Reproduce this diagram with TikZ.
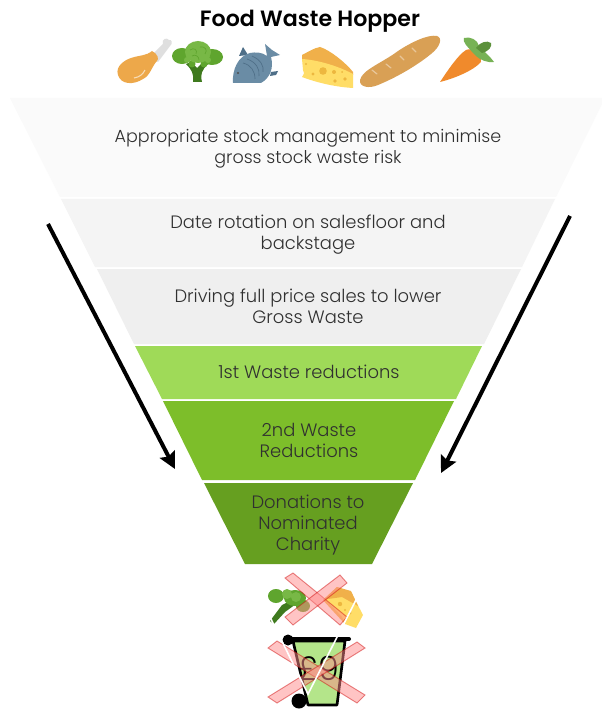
\documentclass[tikz,border=0pt]{standalone}
\usepackage{fontspec}
\setmainfont{Poppins Light}[BoldFont={Poppins SemiBold}]
\usetikzlibrary{arrows.meta}
\definecolor{segA}{HTML}{FAFAFA}
\definecolor{segB}{HTML}{F4F4F4}
\definecolor{segC}{HTML}{EFEFEF}
\definecolor{segD}{HTML}{9FDA58}
\definecolor{segE}{HTML}{7DBE2A}
\definecolor{segF}{HTML}{669F20}
\definecolor{txt}{HTML}{303030}
\definecolor{gOrange}{HTML}{EDA84A}
\definecolor{gGreen}{HTML}{5FA52E}
\definecolor{gLight}{HTML}{78B846}
\definecolor{gDark}{HTML}{3F7A1E}
\definecolor{fishC}{HTML}{6A8CA5}
\definecolor{fishD}{HTML}{4F6F88}
\definecolor{cheeseA}{HTML}{FFDD67}
\definecolor{cheeseB}{HTML}{F0B04A}
\definecolor{cheeseH}{HTML}{EDB73F}
\definecolor{bread}{HTML}{D9A055}
\definecolor{carrot}{HTML}{F08A2C}
\definecolor{carrotL}{HTML}{77B255}
\definecolor{carrotD}{HTML}{5C913B}
\definecolor{binG}{HTML}{B4E58A}
\definecolor{crossF}{HTML}{FF8A8A}
\tikzset{x=0.75pt,y=-0.75pt,
  seglabel/.style={align=center,text=txt,font=\fontsize{13.45}{15.8}\selectfont,inner sep=0pt},
  bigarrow/.style={line width=3pt,-{Stealth[length=12.5pt,width=12.5pt,inset=2pt]}},
  redx/.style={fill=crossF,fill opacity=.5,draw=red!80!black,draw opacity=.45,line width=.7pt},
}
\begin{document}
\begin{tikzpicture}
\useasboundingbox (0,0) rectangle (602,709);
\fill[white] (0,0) rectangle (602,709);
% funnel
\fill[segA] (10,98) -- (605,98) -- (556,197) -- (60,197) -- cycle;
\fill[segB] (61,199) -- (555,199) -- (522,267) -- (95,267) -- cycle;
\fill[segC] (97,269) -- (521,269) -- (484,344) -- (134,344) -- cycle;
\fill[segD] (135,346) -- (482,346) -- (456,399) -- (162,399) -- cycle;
\fill[segE] (163,401) -- (454,401) -- (415,480) -- (202,480) -- cycle;
\fill[segF] (204,483) -- (413,483) -- (372,564) -- (245,564) -- cycle;
\node[seglabel] (t0) at (310,21) {\fontsize{16.6}{18}\selectfont\bfseries\color{black}Food Waste Hopper};
\node[seglabel,font=\fontsize{13.15}{15.8}\selectfont] (t1) at (308,149) {Appropriate stock management to minimise\\gross stock waste risk};
\node[seglabel] (t2) at (308,235) {Date rotation on salesfloor and\\backstage};
\node[seglabel] (t3) at (308,306) {Driving full price sales to lower\\Gross Waste};
\node[seglabel] (t4) at (309,372) {1st Waste reductions};
\node[seglabel] (t5) at (309,440) {2nd Waste\\Reductions};
\node[seglabel] (t6) at (308,525) {Donations to\\Nominated\\Charity};
% arrows
\coordinate (la) at (48,224); \coordinate (lb) at (175,469);
\coordinate (ra) at (570,216); \coordinate (rb) at (441,473);
\draw[bigarrow] (la) -- (lb);
\draw[bigarrow] (ra) -- (rb);
% chicken
\fill[gray!25] (151,56) -- (163,44) .. controls (161,39) and (167,37) .. (169,40) .. controls (172,39) and (173,44) .. (170,46) -- (158,62) -- cycle;
\fill[gOrange] (152,51) .. controls (158,54) and (159,59) .. (157,61) .. controls (152,66) and (150,76) .. (143,79) .. controls (134,85) and (121,85) .. (118,75) .. controls (115,66) and (125,60) .. (131,58) .. controls (140,55) and (146,56) .. (152,51) -- cycle;
\draw[white,opacity=.6,line width=.8pt] (134,78) .. controls (140,77) and (143,74) .. (145,70);
% broccoli
\fill[gDark] (193,82) .. controls (194,74) and (192,70) .. (186,64) -- (191,62) -- (197,68) -- (203,62) -- (208,64) .. controls (202,70) and (200,74) .. (202,82) -- cycle;
\fill[gGreen] (182,56) ellipse (10 and 8) (212,57) ellipse (11 and 8) (192,64) circle (3.5) (204,64) circle (3.5) ;
\fill[gLight] (198,52) ellipse (13 and 11) (187,60) circle (3) (208,60) circle (3);
\draw[gGreen,line width=.5pt] (190,50) .. controls (194,47) and (198,50) .. (196,54) (200,47) .. controls (205,46) and (208,50) .. (205,54) (178,56) .. controls (181,53) and (185,54) .. (185,57) (210,56) .. controls (213,53) and (217,55) .. (216,58) (192,56) .. controls (195,54) and (199,56) .. (199,60);
% fish
\fill[fishD] (239,56) -- (243,47) -- (248,55) -- cycle;
\fill[fishD] (271,72) -- (278,71) -- (276,75) -- (270,76) -- cycle;
\fill[fishC] (233,83) .. controls (232,70) and (238,56) .. (250,53) .. controls (255,52) and (262,52) .. (267,56) -- (265,44) -- (272,50) -- (280,55) -- (271,57) .. controls (274,68) and (270,78) .. (261,83) -- cycle;
\fill[black!70] (238,73) circle (1.2);
\draw[fishD,line width=.5pt] (247,59) .. controls (256,62) and (260,69) .. (259,76) (243,63) .. controls (251,65) and (255,71) .. (255,79) (252,56) .. controls (261,60) and (264,66) .. (263,72);
% cheese
\fill[cheeseB] (302,55) .. controls (308,52) and (314,48) .. (320,47) .. controls (330,50) and (346,63) .. (353,72) -- (353,75) -- (302,60) -- cycle;
\fill[cheeseA] (302,59) .. controls (318,60) and (338,66) .. (353,74) -- (353,88) .. controls (336,87) and (318,83) .. (302,77) .. controls (304,74) and (305,72) .. (303,70) -- cycle;
\fill[cheeseH] (323,71) circle (3.8) (334,72) circle (2) (313,74) circle (1.6) (345,79) circle (1.8) (335,81) circle (1.8) (306,64) circle (1.2) (342,72) circle (1);
% baguette
\fill[bread] (360,80) .. controls (362,70) and (382,63) .. (398,51) .. controls (410,43) and (428,34) .. (437,36) .. controls (443,38) and (440,47) .. (431,54) .. controls (415,67) and (395,78) .. (378,85) .. controls (369,89) and (359,87) .. (360,80) -- cycle;
\draw[white,opacity=.4,line width=.9pt,line cap=round] (372,70) -- (377,74) (386,64) -- (391,68) (400,56) -- (404,60) (412,48) -- (416,52);
% carrot
\fill[carrot] (440,82) .. controls (448,70) and (458,55) .. (466,50) .. controls (472,47) and (482,55) .. (481,62) .. controls (474,70) and (456,78) .. (440,82) -- cycle;
\fill[carrotL] (473,53) .. controls (468,47) and (462,42) .. (464,38) .. controls (470,36) and (478,40) .. (479,46) .. controls (484,52) and (490,56) .. (494,62) .. controls (488,63) and (480,60) .. (476,56) -- cycle;
\fill[carrotD] (476,48) .. controls (480,42) and (487,40) .. (491,43) .. controls (492,47) and (489,51) .. (482,53) -- cycle;
% small broccoli
\fill[gDark] (270,621) -- (282,605) -- (290,601) -- (296,604) -- (285,612) -- (274,624) -- cycle;
\fill[gGreen] (276,596) ellipse (8 and 7) (295,598) ellipse (11 and 8) (303,606) ellipse (7 and 6);
\fill[gLight] (287,594) circle (5) (296,597) circle (5);
% small cheese
\fill[cheeseA] (323,600) -- (337,587) -- (351,592) -- (363,615) -- (356,628) -- (345,624) -- cycle;
\fill[cheeseB] (337,587) -- (351,591) -- (358,606) -- (342,597) -- (328,599) -- (323,600) -- cycle;
\fill[cheeseB,opacity=.7] (323,600) -- (345,624) -- (342,617) -- (326,600) -- cycle;
\fill[cheeseH] (340,604) circle (2.2) (350,613) circle (1.6) (345,610) circle (1.2);
% x 1
\fill[redx] (293,573) -- (347,617) -- (340,625) -- (285,578) -- cycle;
\fill[redx] (340,575) -- (347,583) -- (293,625) -- (285,617) -- cycle;
% bin
\draw[black,fill=binG,line width=2pt,line join=round] (293,641) -- (345,641) -- (337,705) -- (308,705) -- cycle;
\draw[black,line width=3pt,line cap=round] (287,639) -- (349,639);
\fill[black] (288,640) circle (5.5);
\fill[black] (299,701) circle (7.5);
\node[inner sep=0pt,text=black] (bintext) at (319,668) {\fontsize{25}{26}\selectfont £9};
% x 2
\fill[redx] (277,641) -- (365,695) -- (357,703) -- (268,648) -- cycle;
\fill[redx] (357,642) -- (365,648) -- (277,703) -- (268,697) -- cycle;
% white V
\draw[white,line width=1.2pt] (270,617) -- (308,694) -- (357,598);
\end{tikzpicture}
\end{document}
